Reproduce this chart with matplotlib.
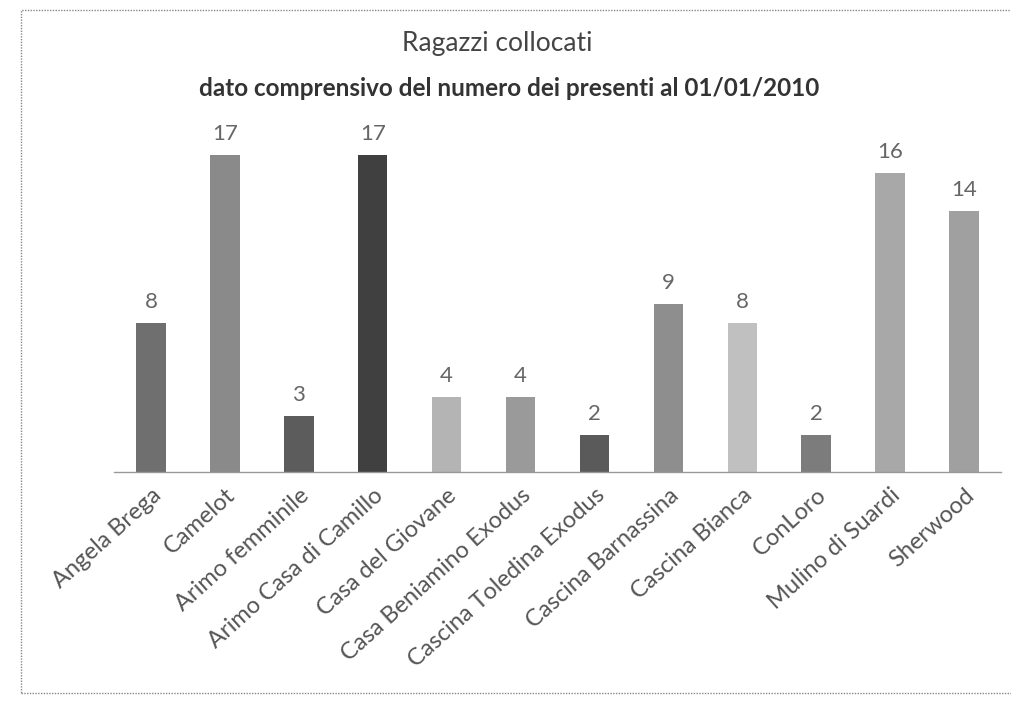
import matplotlib
matplotlib.use("Agg")
import matplotlib.pyplot as plt
from matplotlib.patches import Rectangle

categories = ["Angela Brega", "Camelot", "Arimo femminile", "Arimo Casa di Camillo",
              "Casa del Giovane", "Casa Beniamino Exodus", "Cascina Toledina Exodus",
              "Cascina Barnassina", "Cascina Bianca", "ConLoro", "Mulino di Suardi", "Sherwood"]
values = [8, 17, 3, 17, 4, 4, 2, 9, 8, 2, 16, 14]
bar_colors = ["#6f6f6f", "#8a8a8a", "#5c5c5c", "#404040", "#b4b4b4", "#9a9a9a",
              "#5a5a5a", "#8e8e8e", "#c0c0c0", "#7c7c7c", "#a8a8a8", "#a0a0a0"]
title = "Ragazzi collocati"
subtitle = "dato comprensivo del numero dei presenti al 01/01/2010"

plt.rcParams['font.family'] = ['Lato', 'DejaVu Sans']

W, H = 1012, 704
fig = plt.figure(figsize=(W / 100, H / 100), dpi=100)
fig.patch.set_facecolor("white")

ax_left, ax_right = 114 / W, 1001 / W
ax_bottom = 1 - 472 / H
ax_top = 1 - 136 / H
ax = fig.add_axes([ax_left, ax_bottom, ax_right - ax_left, ax_top - ax_bottom])

x = list(range(len(categories)))
bars = ax.bar(x, values, width=0.4, color=bar_colors, edgecolor="none")
ax.set_xlim(-0.5, len(categories) - 0.5)
ax.set_ylim(0, 18)

for xi, v in zip(x, values):
    ax.annotate(str(v), (xi, v), xytext=(0, 8), textcoords="offset points",
                ha="center", va="bottom", fontsize=16, color="#666666")

ax.set_yticks([])
ax.set_xticks(x)
ax.set_xticklabels(categories, rotation=42, ha="right", va="top",
                   rotation_mode="anchor", fontsize=17, color="#555555")
ax.tick_params(axis="x", length=0, pad=9)
for s in ["top", "left", "right"]:
    ax.spines[s].set_visible(False)
ax.spines["bottom"].set_color("#999999")
ax.spines["bottom"].set_linestyle((0, (1, 1)))
ax.spines["bottom"].set_linewidth(1.0)
ax.set_facecolor("none")

fig.text(497 / W, 1 - 44 / H, title, ha="center", va="center",
         fontsize=19, color="#444444")
fig.text(509 / W, 1 - 88 / H, subtitle, ha="center", va="center",
         fontsize=17.5, color="#333333", fontweight="bold")

border = Rectangle((21 / W, 1 - 693 / H), 1.2, (693 - 10) / H,
                   transform=fig.transFigure, fill=False, edgecolor="#888888",
                   linestyle=(0, (1, 1)), linewidth=1.0, clip_on=False)
fig.add_artist(border)

fig.savefig("out.png", dpi=100)
